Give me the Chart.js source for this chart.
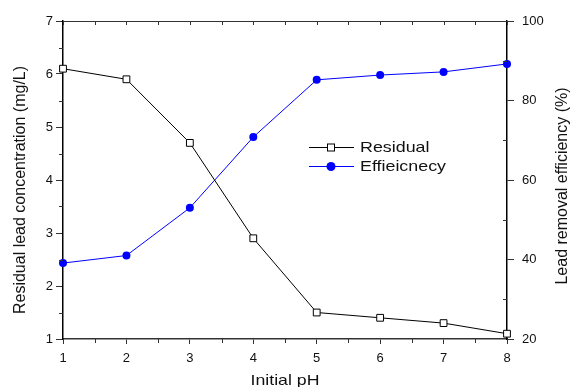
<!DOCTYPE html>
<html>
<head>
<meta charset="utf-8">
<script src="https://cdn.jsdelivr.net/npm/chart.js@4/dist/chart.umd.min.js"></script>
<style>
html,body{margin:0;padding:0;background:#fff;}
#wrap{width:570px;height:387px;position:relative;}
</style>
</head>
<body>
<div id="wrap"><canvas id="c" width="570" height="387"></canvas></div>
<script>
const phValues = [1, 2, 3, 4, 5, 6, 7, 8];
const residual = [6.1, 5.9, 4.7, 2.9, 1.5, 1.4, 1.3, 1.1];
const efficiency = [39.1, 41.0, 53.0, 70.8, 85.2, 86.4, 87.2, 89.2];
const leftTicks = [1, 2, 3, 4, 5, 6, 7];
const rightTicks = [20, 40, 60, 80, 100];
const xTicks = [1, 2, 3, 4, 5, 6, 7, 8];
const xTitle = 'Initial pH';
const leftTitle = 'Residual lead concentration (mg/L)';
const rightTitle = 'Lead removal efficiency (%)';

const FONT = '"Liberation Sans", Arial, sans-serif';
const AXC = '#333';

function stretchedText(ctx, text, x, y, sx) {
  ctx.save();
  ctx.translate(x, y);
  ctx.scale(sx, 1);
  ctx.fillText(text, 0, 0);
  ctx.restore();
}

const framePlugin = {
  id: 'frame',
  afterDraw(chart) {
    const ctx = chart.ctx;
    const a = chart.chartArea;
    const x = chart.scales.x, yl = chart.scales.y, yr = chart.scales.y2;
    ctx.save();
    ctx.strokeStyle = AXC;
    ctx.lineWidth = 1;
    // top frame line
    ctx.beginPath();
    ctx.moveTo(a.left, a.top + 0.5);
    ctx.lineTo(a.right, a.top + 0.5);
    ctx.stroke();
    ctx.beginPath();
    for (let v = 1; v <= 8.001; v += 0.5) {
      const px = Math.round(x.getPixelForValue(v)) + 0.5;
      const major = Math.abs(v - Math.round(v)) < 1e-6;
      ctx.moveTo(px, a.top);
      ctx.lineTo(px, a.top + 4);
      if (!major) {
        ctx.moveTo(px, a.bottom);
        ctx.lineTo(px, a.bottom + 4);
      }
    }
    for (let v = 1.5; v < 7; v += 1) {
      const py = Math.round(yl.getPixelForValue(v)) + 0.5;
      ctx.moveTo(a.left, py);
      ctx.lineTo(a.left - 4, py);
    }
    for (let v = 30; v < 100; v += 20) {
      const py = Math.round(yr.getPixelForValue(v)) + 0.5;
      ctx.moveTo(a.right, py);
      ctx.lineTo(a.right - 4, py);
    }
    ctx.stroke();

    // axis titles
    ctx.fillStyle = '#111';
    ctx.textBaseline = 'alphabetic';
    ctx.textAlign = 'center';
    ctx.font = '15px ' + FONT;
    stretchedText(ctx, xTitle, (a.left + a.right) / 2, 385, 1.18);
    ctx.font = '16px ' + FONT;
    ctx.save();
    ctx.translate(25, 190);
    ctx.rotate(-Math.PI / 2);
    ctx.fillText(leftTitle, 0, 0);
    ctx.restore();
    ctx.save();
    ctx.translate(566.5, 186);
    ctx.rotate(-Math.PI / 2);
    ctx.fillText(rightTitle, 0, 0);
    ctx.restore();

    // legend
    const ds = chart.data.datasets;
    const rows = [147, 166];
    ctx.font = '15px ' + FONT;
    ctx.textBaseline = 'middle';
    ctx.textAlign = 'left';
    ds.forEach((d, i) => {
      const y = rows[i] + 0.5;
      ctx.strokeStyle = d.borderColor;
      ctx.lineWidth = 1;
      ctx.beginPath();
      ctx.moveTo(309, y);
      ctx.lineTo(354, y);
      ctx.stroke();
      if (d.pointStyle === 'rect') {
        ctx.fillStyle = '#fff';
        ctx.fillRect(327.5, y - 3.5, 7, 7);
        ctx.strokeStyle = '#000';
        ctx.strokeRect(327.5, y - 3.5, 7, 7);
      } else {
        ctx.fillStyle = d.pointBackgroundColor;
        ctx.beginPath();
        ctx.arc(331, y, 4.5, 0, Math.PI * 2);
        ctx.fill();
      }
      ctx.fillStyle = '#111';
      stretchedText(ctx, d.label, 360, rows[i] + 1, 1.19);
    });
    ctx.restore();
  }
};

new Chart(document.getElementById('c'), {
  type: 'line',
  data: {
    datasets: [
      {
        label: 'Residual',
        data: phValues.map((p, i) => ({x: p, y: residual[i]})),
        yAxisID: 'y',
        borderColor: '#000',
        borderWidth: 1,
        pointStyle: 'rect',
        pointRadius: 4.8,
        pointBackgroundColor: '#fff',
        pointBorderColor: '#000',
        pointBorderWidth: 1,
        tension: 0,
        clip: false
      },
      {
        label: 'Effieicnecy',
        data: phValues.map((p, i) => ({x: p, y: efficiency[i]})),
        yAxisID: 'y2',
        borderColor: '#0000ff',
        borderWidth: 1,
        pointStyle: 'circle',
        pointRadius: 4,
        pointBackgroundColor: '#0000ff',
        pointBorderColor: '#0000ff',
        pointBorderWidth: 0,
        tension: 0,
        clip: false
      }
    ]
  },
  options: {
    responsive: false,
    animation: false,
    devicePixelRatio: 1,
    layout: {padding: {top: 21, left: 0, right: 0, bottom: 0}},
    plugins: {legend: {display: false}, tooltip: {enabled: false}},
    scales: {
      x: {
        type: 'linear',
        min: 1, max: 8,
        afterBuildTicks: s => { s.ticks = xTicks.map(v => ({value: v})); },
        afterFit: s => { s.height = 48; },
        border: {display: true, color: AXC, width: 1.5},
        grid: {display: true, drawOnChartArea: false, drawTicks: true, tickLength: 5, color: AXC},
        ticks: {color: '#111', font: {family: FONT, size: 13}, padding: 7, maxRotation: 0},
        title: {display: false}
      },
      y: {
        type: 'linear',
        position: 'left',
        min: 1, max: 7,
        afterBuildTicks: s => { s.ticks = leftTicks.map(v => ({value: v})); },
        afterFit: s => { s.width = 63; },
        border: {display: true, color: '#000', width: 1.5},
        grid: {display: true, drawOnChartArea: false, drawTicks: true, tickLength: 7, color: AXC},
        ticks: {color: '#111', font: {family: FONT, size: 13}, padding: 3},
        title: {display: false}
      },
      y2: {
        type: 'linear',
        position: 'right',
        min: 20, max: 100,
        afterBuildTicks: s => { s.ticks = rightTicks.map(v => ({value: v})); },
        afterFit: s => { s.width = 63; },
        border: {display: true, color: '#000', width: 1.5},
        grid: {display: true, drawOnChartArea: false, drawTicks: true, tickLength: 7, color: AXC},
        ticks: {color: '#111', font: {family: FONT, size: 13}, padding: 8},
        title: {display: false}
      }
    }
  },
  plugins: [framePlugin]
});
</script>
</body>
</html>
